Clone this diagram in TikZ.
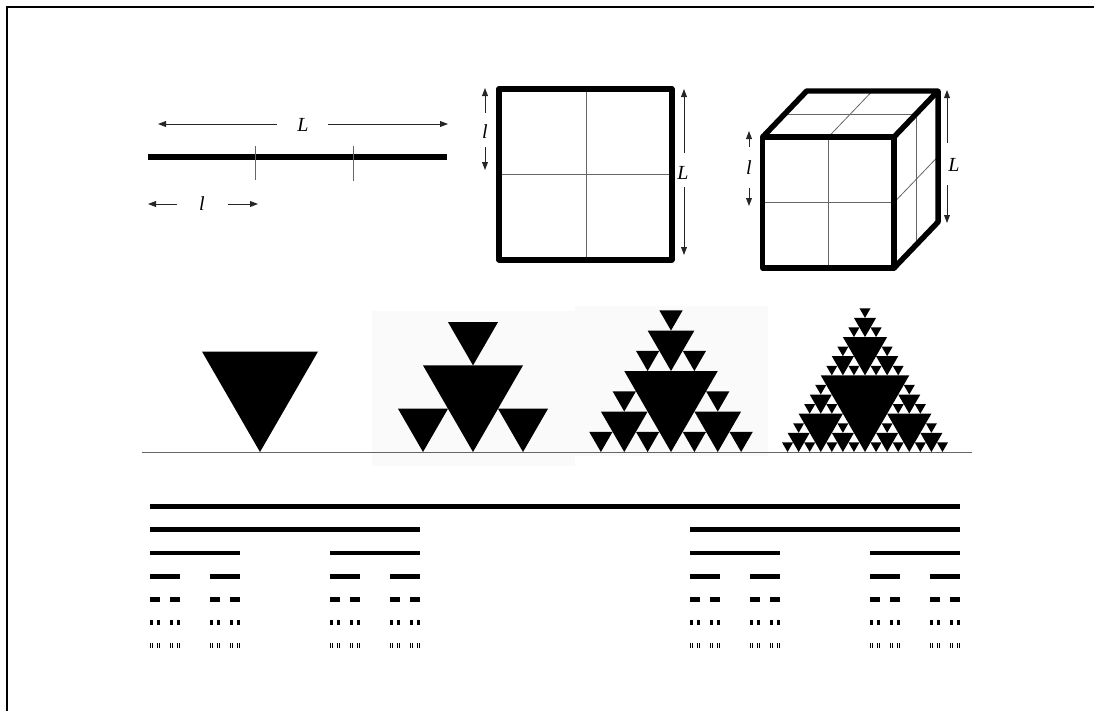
\documentclass[tikz,border=0pt]{standalone}
\usepackage{fontspec}
\setmainfont{Liberation Serif}
\usepackage{tikz}
\usetikzlibrary{arrows.meta,calc}

% inverted triangle gasket: level, base centre x, base y, side
\newcommand{\gasket}[4]{%
  \begingroup
  \pgfmathsetmacro\gkx{#2}%
  \pgfmathsetmacro\gky{#3}%
  \pgfmathsetmacro\gks{#4}%
  \pgfmathsetmacro\gkh{\gks*0.4330127}%
  \fill (\gkx,\gky) -- (\gkx-\gks/4,\gky-\gkh) -- (\gkx+\gks/4,\gky-\gkh) -- cycle;
  \ifnum#1>0
    \pgfmathtruncatemacro\gkn{#1-1}%
    \gasket{\gkn}{\gkx-\gks/4}{\gky}{\gks/2}%
    \gasket{\gkn}{\gkx+\gks/4}{\gky}{\gks/2}%
    \gasket{\gkn}{\gkx}{\gky-\gkh}{\gks/2}%
  \fi
  \endgroup}

% cantor rows: level, left x, y, length
\newcommand{\cantorrow}[4]{%
  \begingroup
  \pgfmathsetmacro\ckx{#2}%
  \pgfmathsetmacro\cky{#3}%
  \pgfmathsetmacro\ckl{#4}%
  \draw[cbar] (\ckx,\cky) -- ++(\ckl,0);
  \ifnum#1>0
    \pgfmathtruncatemacro\ckn{#1-1}%
    \cantorrow{\ckn}{\ckx}{\cky+23.17}{\ckl/3}%
    \cantorrow{\ckn}{\ckx+2*\ckl/3}{\cky+23.17}{\ckl/3}%
  \fi
  \endgroup}

\begin{document}
\begin{tikzpicture}[
    x=0.75pt, y=-0.75pt,
    >={Triangle[length=6pt,width=4.4pt]},
    dim/.style={->, line width=0.65pt, black!85},
    lab/.style={font=\fontsize{15}{17}\selectfont\itshape, inner sep=0pt},
    grid/.style={line width=0.6pt, black!60},
    bar/.style={line width=4.5pt},
    cbar/.style={line width=3.6pt},
    frame/.style={line width=4.5pt, line join=round},
    cubeedge/.style={line width=4.1pt, line join=round}
]
    \useasboundingbox (0,0) rectangle (1094,711);
    \draw[line width=1.5pt] (6.5,711) -- (6.5,6.5) -- (1094,6.5);

    % line
    \draw[bar] (148,157) -- (447,157);
    \draw[grid] (255,146) -- (255,180);
    \draw[grid] (353,146) -- (353,181);
    \node[lab] (Lline) at (303,125) {L};
    \coordinate (Lla) at (158,124);
    \coordinate (Llb) at (448,124);
    \draw[dim] (Lline.center) ++(-26,-1) coordinate (Lls) -- (Lla);
    \draw[dim] (Lline.center) ++(25,-1) coordinate (Llt) -- (Llb);
    \node[lab] (lline) at (202,204) {l};
    \coordinate (lla) at (148,204);
    \coordinate (llb) at (258,204);
    \draw[dim] (lline.center) ++(-25,0) coordinate (lls) -- (lla);
    \draw[dim] (lline.center) ++(26,0) coordinate (llt) -- (llb);

    % square
    \draw[grid] (586,89) -- (586,259.5);
    \draw[grid] (499,174) -- (671.5,174);
    \draw[frame] (499,89) rectangle (671.5,259.5);
    \node[lab] (lsq) at (485,132) {l};
    \coordinate (lsqa) at (485,88);
    \coordinate (lsqb) at (485,170);
    \draw[dim] (lsq.center) ++(0,-19) coordinate (lsqs) -- (lsqa);
    \draw[dim] (lsq.center) ++(0,15) coordinate (lsqt) -- (lsqb);
    \node[lab] (Lsq) at (683,173) {L};
    \coordinate (Lsqa) at (684,89);
    \coordinate (Lsqb) at (684,255);
    \draw[dim] (Lsq.center) ++(1,-20) coordinate (Lsqs) -- (Lsqa);
    \draw[dim] (Lsq.center) ++(1,14) coordinate (Lsqt) -- (Lsqb);

    % cube
    \coordinate (fa) at (762.7,137);
    \coordinate (fb) at (894,137);
    \coordinate (fc) at (894,268);
    \coordinate (fd) at (762.7,268);
    \coordinate (ba) at (806.7,91);
    \coordinate (bb) at (938,91);
    \coordinate (bc) at (938,222);
    \draw[grid] ($(fa)!0.5!(fb)$) -- ($(fd)!0.5!(fc)$);
    \draw[grid] ($(fa)!0.5!(fd)$) -- ($(fb)!0.5!(fc)$);
    \draw[grid] ($(fa)!0.5!(fb)$) -- ($(ba)!0.5!(bb)$);
    \draw[grid] ($(fa)!0.5!(ba)$) -- ($(fb)!0.5!(bb)$);
    \draw[grid] ($(fb)!0.5!(bb)$) -- ($(fc)!0.5!(bc)$);
    \draw[grid] ($(fb)!0.5!(fc)$) -- ($(bb)!0.5!(bc)$);
    \draw[cubeedge] (fa) rectangle (fc);
    \draw[cubeedge] (fa) -- (ba) -- (bb) -- (fb);
    \draw[cubeedge] (bb) -- (bc) -- (fc);
    \node[lab] (lcu) at (749,168) {l};
    \coordinate (lcua) at (749,131);
    \coordinate (lcub) at (749,206);
    \draw[dim] (lcu.center) ++(0,-21) coordinate (lcus) -- (lcua);
    \draw[dim] (lcu.center) ++(0,20) coordinate (lcut) -- (lcub);
    \node[lab] (Lcu) at (954,165) {L};
    \coordinate (Lcua) at (947,90);
    \coordinate (Lcub) at (947,223);
    \draw[dim] (Lcu.center) ++(-7,-22) coordinate (Lcus) -- (Lcua);
    \draw[dim] (Lcu.center) ++(-7,20) coordinate (Lcut) -- (Lcub);

    % gaskets
    \fill[black!2] (372,311) rectangle (575,466);
    \fill[black!2] (575,306) rectangle (768,456);
    \draw[grid] (142,452) -- (972,452);
    \gasket{0}{260}{452}{232}
    \gasket{1}{473}{452}{200}
    \gasket{2}{671}{452}{187}
    \gasket{3}{865}{452}{177}

    % cantor set
    \cantorrow{6}{150}{506.7}{810}
\end{tikzpicture}
\end{document}
